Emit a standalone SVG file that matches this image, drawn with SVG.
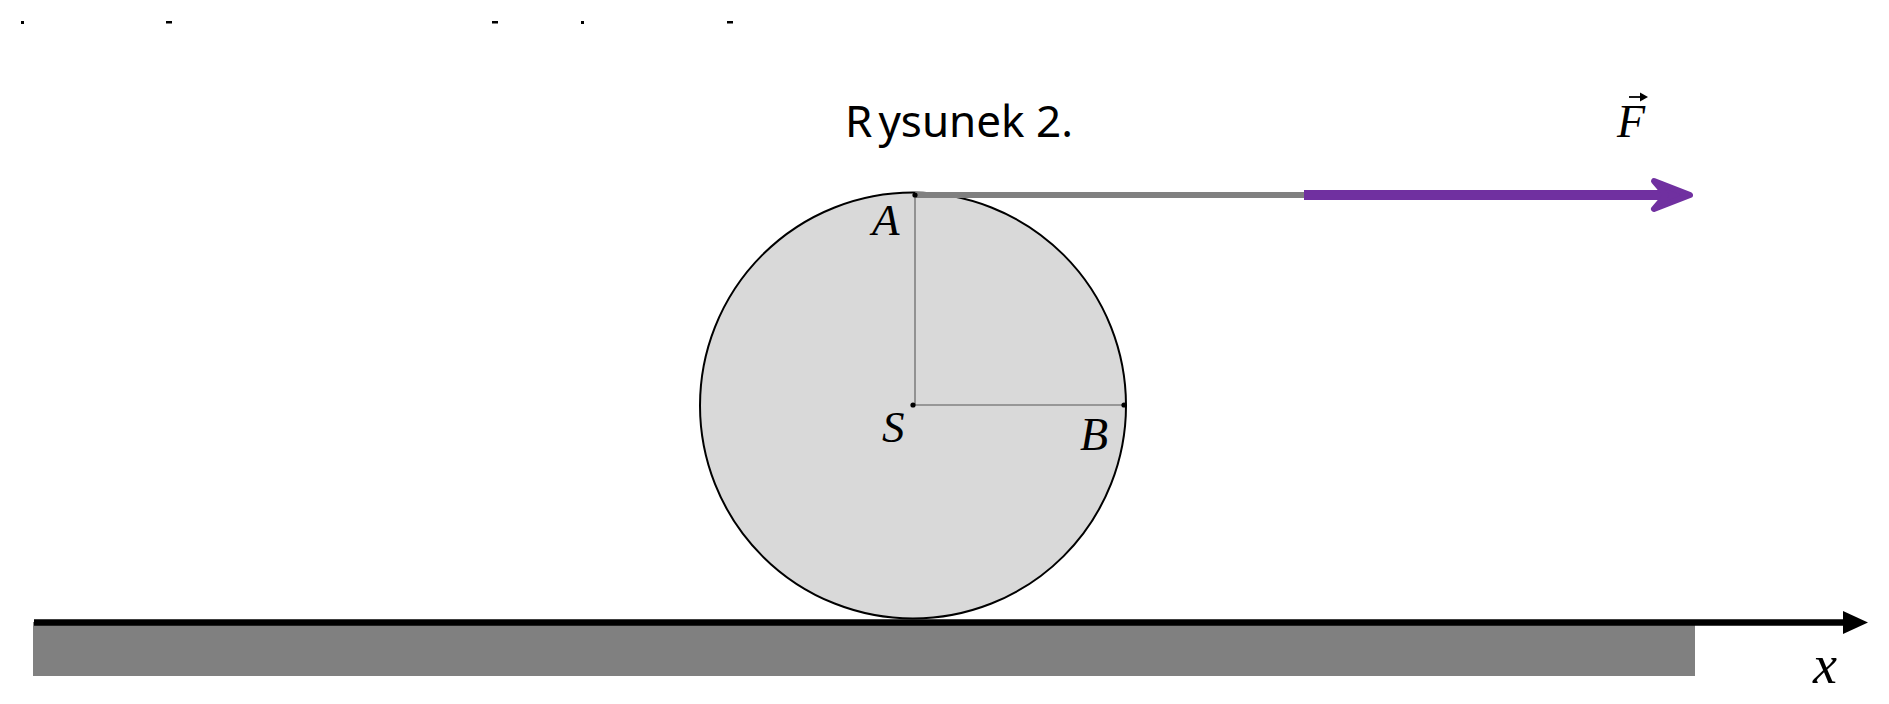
<svg xmlns="http://www.w3.org/2000/svg" width="1889" height="704" viewBox="0 0 1889 704">
<style>
.lbl{font-family:"Liberation Serif","DejaVu Serif",serif;font-style:italic;fill:#000}
.title{font-family:"Noto Sans","Open Sans",sans-serif;font-size:44px;fill:#000}
.thin{stroke:#808080;stroke-width:1.6;fill:none}
.dot{fill:#000}
</style>
<rect width="1889" height="704" fill="#fff"/>
<g id="top-marks" fill="#000">
<rect x="21" y="21" width="3" height="3"/>
<rect x="166" y="21" width="6" height="2.5"/>
<rect x="492" y="21" width="6" height="2.5"/>
<rect x="581" y="21" width="3" height="3"/>
<rect x="727" y="21" width="6" height="2.5"/>
</g>
<g id="title"><text class="title" x="845" y="137">R<tspan dx="6">ysunek 2.</tspan></text></g>
<g id="ground">
<rect x="33" y="622" width="1662" height="54" fill="#808080"/>
</g>
<g id="wheel">
<circle cx="913" cy="405.5" r="213" fill="#d9d9d9" stroke="#000" stroke-width="2"/>
</g>
<g id="connectors">
<line class="thin" x1="915" y1="195" x2="915" y2="405"/>
<line class="thin" x1="914" y1="405" x2="1125" y2="405"/>
<line x1="915" y1="195" x2="1305" y2="195" stroke="#808080" stroke-width="6"/>
<line x1="1304" y1="195" x2="1665" y2="195" stroke="#7030a0" stroke-width="10"/>
<path d="M1690,195 L1654,181 L1666,195 L1654,209 Z" fill="#7030a0" stroke="#7030a0" stroke-width="6" stroke-linejoin="round"/>
<line x1="34" y1="622.5" x2="1846" y2="622.5" stroke="#000" stroke-width="6.5"/>
<path d="M1868,622.5 L1843,611 L1843,634 Z" fill="#000"/>
</g>
<g id="point-A"><circle class="dot" cx="915" cy="195" r="2.6"/><text class="lbl" x="872" y="235" font-size="45">A</text></g>
<g id="point-S"><circle class="dot" cx="913" cy="405" r="2.6"/><text class="lbl" x="882" y="442" font-size="45">S</text></g>
<g id="point-B"><circle class="dot" cx="1124" cy="405" r="2.6"/><text class="lbl" x="1080" y="450" font-size="46">B</text></g>
<g id="label-F">
<text class="lbl" x="1617" y="137" font-size="46">F</text>
<line x1="1629" y1="97" x2="1643" y2="97" stroke="#000" stroke-width="1.8"/>
<path d="M1648,97 L1640,92.5 L1640,101.5 Z" fill="#000"/>
</g>
<g id="label-x"><text class="lbl" x="1813" y="683" font-size="54">x</text></g>
</svg>
